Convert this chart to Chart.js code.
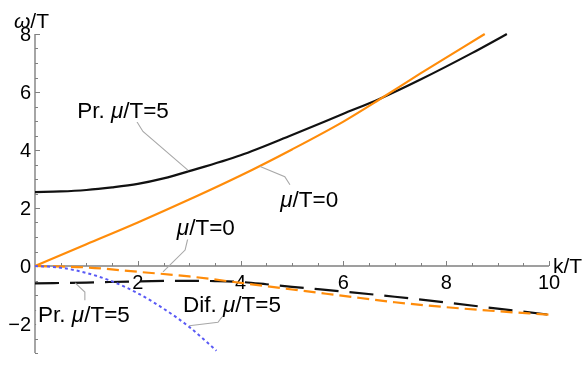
<!DOCTYPE html>
<html><head><meta charset="utf-8">
<script src="https://cdn.jsdelivr.net/npm/chart.js@4/dist/chart.umd.min.js"></script>
<style>html,body{margin:0;padding:0;background:#fff}canvas{display:block}</style>
</head><body>
<canvas id="c" width="588" height="368"></canvas>
<script>
// ---- data ----
const kPr5Up   = [0, 0.5, 1, 1.5, 2, 2.5, 3, 4, 5, 6, 6.7, 7.5, 8.5, 9.18];
const wPr5Up   = [2.55, 2.57, 2.62, 2.71, 2.83, 3.02, 3.27, 3.82, 4.52, 5.25, 5.76, 6.43, 7.34, 8.0];
const kMu0Up   = [0, 1, 2, 3, 4, 5, 6, 6.7, 7.5, 8.75];
const wMu0Up   = [0, 0.75, 1.5, 2.29, 3.12, 4.02, 4.98, 5.74, 6.64, 8.0];
const kDif5    = [0, 1, 2, 3, 3.5, 4, 4.5, 5, 6, 7, 8, 9, 10];
const wDif5    = [-0.6, -0.57, -0.53, -0.51, -0.52, -0.55, -0.63, -0.72, -0.88, -1.06, -1.26, -1.47, -1.68];
const kMu0Dif  = [0, 1, 2, 3, 4, 5, 6, 7, 8, 9, 10];
const wMu0Dif  = [0, -0.05, -0.2, -0.36, -0.58, -0.81, -1.03, -1.25, -1.42, -1.56, -1.68];
const kPr5Low  = [0, 0.5, 1, 1.5, 2, 2.5, 3, 3.53];
const wPr5Low  = [0, -0.06, -0.24, -0.53, -0.94, -1.47, -2.1, -2.92];
const xTickLabels = [2, 4, 6, 8, 10];
const yTickLabels = [-2, 0, 2, 4, 6, 8];
const xRange = [0, 10];
const yRange = [-3, 8];

const pts = (ks, ws) => ks.map((k, i) => ({x: k, y: ws[i]}));
const FONT = "'Liberation Sans', Arial, sans-serif";
const ORANGE = '#ff8c0a';

// callout labels: text segments, anchor (data), leader polyline (data)
const callouts = [
  {seg: [['Pr. ', 0], ['μ', 1], ['/T=5', 0]], at: [0.82, 5.12], lead: [[1.98, 4.98], [2.1, 4.64], [2.98, 3.3]]},
  {seg: [['μ', 1], ['/T=0', 0]], at: [4.77, 2.04], lead: [[4.38, 3.43], [4.86, 3.08], [4.96, 2.8]]},
  {seg: [['μ', 1], ['/T=0', 0]], at: [2.76, 1.07], lead: [[2.98, 1.0], [2.92, 0.55], [2.49, -0.2]]},
  {seg: [['Pr. ', 0], ['μ', 1], ['/T=5', 0]], at: [0.06, -1.94], lead: [[0.97, -1.18], [0.97, -0.9], [0.78, -0.58]]},
  {seg: [['Dif. ', 0], ['μ', 1], ['/T=5', 0]], at: [2.88, -1.59], lead: [[3.66, -1.7], [3.56, -1.94], [3.0, -2.06]]}
];

function setFont(ctx, size, it) { ctx.font = (it ? 'italic ' : '') + size + 'px ' + FONT; }

const axesPlugin = {
  id: 'mmaAxes',
  beforeDatasetsDraw(chart) {
    const {ctx, scales: {x, y}} = chart;
    const X = v => x.getPixelForValue(v), Y = v => y.getPixelForValue(v);
    const x0 = X(0), y0 = Y(0);
    ctx.save();
    ctx.strokeStyle = '#808080';
    ctx.lineWidth = 1.4;
    ctx.beginPath();
    ctx.moveTo(X(xRange[0]), y0); ctx.lineTo(X(xRange[1]), y0);
    ctx.moveTo(x0, Y(yRange[0])); ctx.lineTo(x0, Y(yRange[1]));
    ctx.stroke();
    ctx.lineWidth = 1;
    ctx.beginPath();
    for (let v = xRange[0] + 0.5; v <= xRange[1] + 1e-9; v += 0.5) {
      const major = Math.abs(v / 2 - Math.round(v / 2)) < 1e-9;
      const px = Math.round(X(v)) + 0.5;
      ctx.moveTo(px, y0); ctx.lineTo(px, y0 - (major ? 5 : 3));
    }
    for (let v = yRange[0]; v <= yRange[1] + 1e-9; v += 0.5) {
      if (Math.abs(v) < 1e-9) continue;
      const major = Math.abs(v / 2 - Math.round(v / 2)) < 1e-9;
      const py = Math.round(Y(v)) + 0.5;
      ctx.moveTo(x0, py); ctx.lineTo(x0 + (major ? 5 : 3), py);
    }
    ctx.stroke();
    ctx.fillStyle = '#000';
    setFont(ctx, 20, false);
    ctx.textAlign = 'center'; ctx.textBaseline = 'alphabetic';
    xTickLabels.forEach(v => ctx.fillText(String(v), X(v), y0 + 23));
    ctx.textAlign = 'right'; ctx.textBaseline = 'middle';
    yTickLabels.forEach(v => ctx.fillText(v < 0 ? '\u2212' + Math.abs(v) : String(v), x0 - 4, Y(v) + 1));
    // axis titles
    ctx.textAlign = 'left'; ctx.textBaseline = 'alphabetic';
    setFont(ctx, 21, true); ctx.fillText('ω', 14, 28);
    let w = ctx.measureText('ω').width;
    setFont(ctx, 21, false); ctx.fillText('/T', 14 + w, 28);
    setFont(ctx, 21, false); ctx.fillText('k/T', X(xRange[1]) + 4, y0 + 7);
    ctx.restore();
  },
  afterDatasetsDraw(chart) {
    const {ctx, scales: {x, y}} = chart;
    const X = v => x.getPixelForValue(v), Y = v => y.getPixelForValue(v);
    ctx.save();
    const size = 22.5;
    callouts.forEach(c => {
      ctx.strokeStyle = '#a8a8a8'; ctx.lineWidth = 1.1;
      ctx.beginPath();
      c.lead.forEach((p, i) => { const px = X(p[0]), py = Y(p[1]); if (i) ctx.lineTo(px, py); else ctx.moveTo(px, py); });
      ctx.stroke();
      let total = 0;
      c.seg.forEach(s => { setFont(ctx, size, s[1]); total += ctx.measureText(s[0]).width; });
      const lx = X(c.at[0]), ly = Y(c.at[1]);
      ctx.fillStyle = '#fff';
      ctx.fillRect(lx - 2, ly - size * 0.85, total + 4, size * 1.05);
      ctx.fillStyle = '#000'; ctx.textAlign = 'left'; ctx.textBaseline = 'alphabetic';
      let cx = lx;
      c.seg.forEach(s => { setFont(ctx, size, s[1]); ctx.fillText(s[0], cx, ly); cx += ctx.measureText(s[0]).width; });
    });
    ctx.restore();
  }
};

const common = {pointRadius: 0, fill: false, clip: false, cubicInterpolationMode: 'monotone', borderWidth: 2.2};

new Chart(document.getElementById('c'), {
  type: 'line',
  data: {
    datasets: [
      Object.assign({label: 'Pr. μ/T=5 (lower)', data: pts(kPr5Low, wPr5Low), borderColor: '#5a5af5', borderDash: [3, 3]}, common, {borderWidth: 2}),
      Object.assign({label: 'Dif. μ/T=0', data: pts(kMu0Dif, wMu0Dif), borderColor: ORANGE, borderDash: [12, 6]}, common),
      Object.assign({label: 'Dif. μ/T=5', data: pts(kDif5, wDif5), borderColor: '#111', borderDash: [24, 11]}, common),
      Object.assign({label: 'μ/T=0', data: pts(kMu0Up, wMu0Up), borderColor: ORANGE}, common),
      Object.assign({label: 'Pr. μ/T=5', data: pts(kPr5Up, wPr5Up), borderColor: '#111'}, common)
    ]
  },
  options: {
    responsive: false,
    animation: false,
    devicePixelRatio: 1,
    layout: {padding: {left: 35, right: 39, top: 34, bottom: 15}},
    plugins: {legend: {display: false}, tooltip: {enabled: false}},
    scales: {
      x: {type: 'linear', min: xRange[0], max: xRange[1], display: false},
      y: {type: 'linear', min: yRange[0], max: yRange[1], display: false}
    }
  },
  plugins: [axesPlugin]
});
</script>
</body></html>
